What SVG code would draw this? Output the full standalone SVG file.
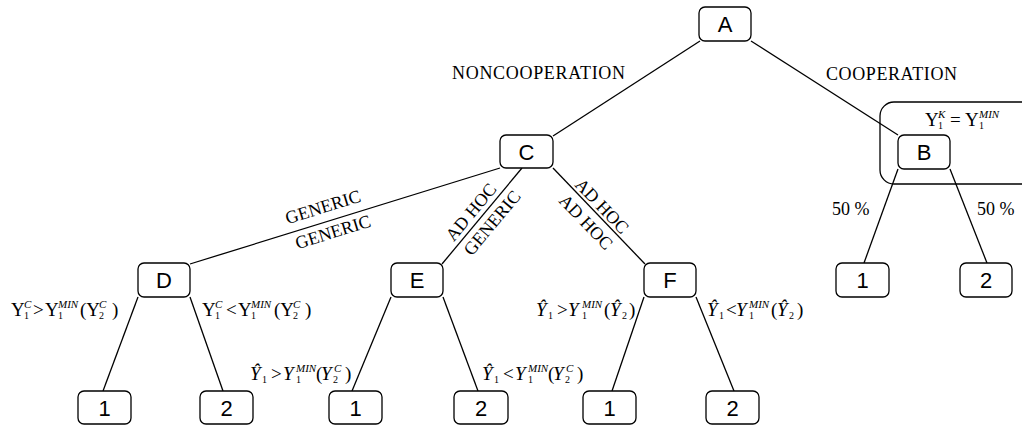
<svg xmlns="http://www.w3.org/2000/svg" width="1022" height="428" viewBox="0 0 1022 428">
<style>
.box{fill:#fff;stroke:#000;stroke-width:1.3}
.nl{font-family:"Liberation Sans",Arial,sans-serif;font-size:22px;text-anchor:middle;fill:#000}
.lb{font-family:"Liberation Serif","Times New Roman",serif;font-size:18px;fill:#000}
.m{font-family:"Liberation Serif","Times New Roman",serif;font-size:19px;fill:#000}
.s{font-size:11px}
.u{font-size:10px}
.i{font-style:italic}
.c line{stroke:#000;stroke-width:1.3}
</style>
<rect x="0" y="0" width="1022" height="428" fill="#fff"/>
<g id="groupB">
<rect x="880" y="102" width="160" height="82" rx="14" fill="none" stroke="#000" stroke-width="1.3"/>
</g>
<g class="c" id="connectors">
<line x1="700" y1="41" x2="553" y2="136"/>
<line x1="751" y1="41" x2="898" y2="135"/>
<line x1="500" y1="168" x2="190" y2="264"/>
<line x1="522" y1="168" x2="442" y2="264"/>
<line x1="553" y1="168" x2="645" y2="264"/>
<line x1="898" y1="169" x2="864" y2="263"/>
<line x1="950" y1="169" x2="987" y2="263"/>
<line x1="138" y1="297" x2="103" y2="391"/>
<line x1="190" y1="297" x2="223" y2="391"/>
<line x1="391" y1="297" x2="352" y2="391"/>
<line x1="443" y1="297" x2="478" y2="391"/>
<line x1="644" y1="297" x2="612" y2="391"/>
<line x1="696" y1="297" x2="734" y2="391"/>
</g>
<g id="A"><rect class="box" x="699" y="7" width="52" height="34" rx="6"/><text class="nl" x="725" y="32">A</text></g>
<g id="C"><rect class="box" x="500" y="135" width="53" height="33" rx="6"/><text class="nl" x="526.5" y="159.5">C</text></g>
<g id="B"><rect class="box" x="898" y="135" width="52" height="34" rx="6"/><text class="nl" x="924" y="160">B</text></g>
<g id="D"><rect class="box" x="138" y="263" width="52" height="34" rx="6"/><text class="nl" x="164" y="288">D</text></g>
<g id="E"><rect class="box" x="391" y="263" width="52" height="34" rx="6"/><text class="nl" x="417" y="288">E</text></g>
<g id="F"><rect class="box" x="644" y="263" width="52" height="34" rx="6"/><text class="nl" x="670" y="288">F</text></g>
<g id="B1"><rect class="box" x="836" y="263" width="53" height="34" rx="6"/><text class="nl" x="862.5" y="288">1</text></g>
<g id="B2"><rect class="box" x="960" y="263" width="52" height="34" rx="6"/><text class="nl" x="986" y="288">2</text></g>
<g id="D1"><rect class="box" x="78" y="391" width="53" height="33" rx="6"/><text class="nl" x="104.5" y="415.5">1</text></g>
<g id="D2"><rect class="box" x="200" y="391" width="53" height="33" rx="6"/><text class="nl" x="226.5" y="415.5">2</text></g>
<g id="E1"><rect class="box" x="329" y="391" width="53" height="33" rx="6"/><text class="nl" x="355.5" y="415.5">1</text></g>
<g id="E2"><rect class="box" x="454" y="391" width="54" height="33" rx="6"/><text class="nl" x="481" y="415.5">2</text></g>
<g id="F1"><rect class="box" x="583" y="391" width="53" height="33" rx="6"/><text class="nl" x="609.5" y="415.5">1</text></g>
<g id="F2"><rect class="box" x="706" y="391" width="53" height="33" rx="6"/><text class="nl" x="732.5" y="415.5">2</text></g>
<g id="labels">
<text class="lb" x="452" y="79" textLength="173" lengthAdjust="spacing">NONCOOPERATION</text>
<text class="lb" x="826" y="80" textLength="131" lengthAdjust="spacing">COOPERATION</text>
<text class="lb" text-anchor="middle" transform="translate(323,207) rotate(-17.2)" y="6">GENERIC</text>
<text class="lb" text-anchor="middle" transform="translate(333,232) rotate(-17.2)" y="6">GENERIC</text>
<text class="lb" text-anchor="middle" transform="translate(471,212) rotate(-50.2)" y="6">AD HOC</text>
<text class="lb" text-anchor="middle" transform="translate(492,223) rotate(-50.2)" y="6">GENERIC</text>
<text class="lb" text-anchor="middle" transform="translate(602,206) rotate(46.2)" y="6">AD HOC</text>
<text class="lb" text-anchor="middle" transform="translate(586,222) rotate(46.2)" y="6">AD HOC</text>
<text class="lb" x="832" y="215">50 %</text>
<text class="lb" x="977" y="215">50 %</text>
<text class="m"><tspan x="925" y="126">Y</tspan><tspan class="u" x="938" y="129">1</tspan><tspan class="s i" x="938" y="118">K</tspan><tspan x="950" y="126">=</tspan><tspan x="965" y="126">Y</tspan><tspan class="u" x="979" y="129">1</tspan><tspan class="s i" x="979" y="118">MIN</tspan></text>
<text class="m"><tspan x="11" y="316">Y</tspan><tspan class="u" x="24" y="319">1</tspan><tspan class="s i" x="24" y="308">C</tspan><tspan x="33" y="316">&gt;</tspan><tspan x="45" y="316">Y</tspan><tspan class="u" x="58" y="319">1</tspan><tspan class="s i" x="58" y="308">MIN</tspan><tspan x="80" y="316">(Y</tspan><tspan class="u" x="99" y="319">2</tspan><tspan class="s i" x="99" y="308">C</tspan><tspan x="112" y="316">)</tspan></text>
<text class="m"><tspan x="202" y="316">Y</tspan><tspan class="u" x="215" y="319">1</tspan><tspan class="s i" x="215" y="308">C</tspan><tspan x="226" y="316">&lt;</tspan><tspan x="238" y="316">Y</tspan><tspan class="u" x="251" y="319">1</tspan><tspan class="s i" x="251" y="308">MIN</tspan><tspan x="274" y="316">(Y</tspan><tspan class="u" x="293" y="319">2</tspan><tspan class="s i" x="293" y="308">C</tspan><tspan x="305" y="316">)</tspan></text>
<text class="m"><tspan class="i" x="250" y="380">Ŷ</tspan><tspan class="u" x="262" y="383">1</tspan><tspan x="271" y="380">&gt;</tspan><tspan class="i" x="283" y="380">Y</tspan><tspan class="u" x="296" y="383">1</tspan><tspan class="s i" x="296" y="372">MIN</tspan><tspan x="316" y="380">(</tspan><tspan class="i" x="321" y="380">Y</tspan><tspan class="u" x="333" y="383">2</tspan><tspan class="s i" x="334" y="372">C</tspan><tspan x="345" y="380">)</tspan></text>
<text class="m"><tspan class="i" x="482" y="380">Ŷ</tspan><tspan class="u" x="494" y="383">1</tspan><tspan x="503" y="380">&lt;</tspan><tspan class="i" x="515" y="380">Y</tspan><tspan class="u" x="528" y="383">1</tspan><tspan class="s i" x="528" y="372">MIN</tspan><tspan x="548" y="380">(</tspan><tspan class="i" x="553" y="380">Y</tspan><tspan class="u" x="565" y="383">2</tspan><tspan class="s i" x="566" y="372">C</tspan><tspan x="577" y="380">)</tspan></text>
<text class="m"><tspan class="i" x="536" y="316">Ŷ</tspan><tspan class="u" x="548" y="319">1</tspan><tspan x="557" y="316">&gt;</tspan><tspan class="i" x="568" y="316">Y</tspan><tspan class="u" x="582" y="319">1</tspan><tspan class="s i" x="582" y="308">MIN</tspan><tspan x="604" y="316">(</tspan><tspan class="i" x="610" y="316">Ŷ</tspan><tspan class="u" x="622" y="319">2</tspan><tspan x="629" y="316">)</tspan></text>
<text class="m"><tspan class="i" x="707" y="316">Ŷ</tspan><tspan class="u" x="719" y="319">1</tspan><tspan x="726" y="316">&lt;</tspan><tspan class="i" x="736" y="316">Y</tspan><tspan class="u" x="749" y="319">1</tspan><tspan class="s i" x="749" y="308">MIN</tspan><tspan x="771" y="316">(</tspan><tspan class="i" x="777" y="316">Ŷ</tspan><tspan class="u" x="789" y="319">2</tspan><tspan x="797" y="316">)</tspan></text>
</g>
</svg>
